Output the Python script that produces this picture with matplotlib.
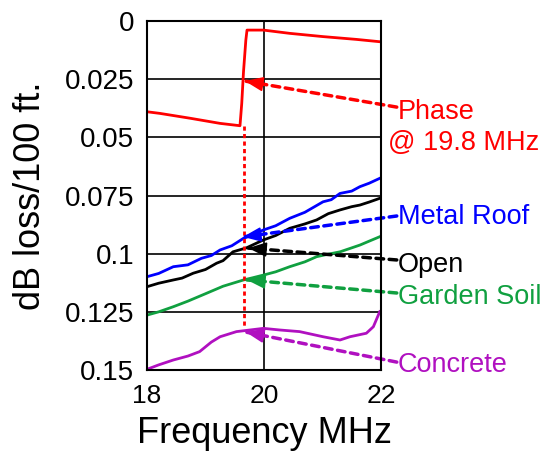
import numpy as np
import matplotlib.pyplot as plt

plt.rcParams['font.family'] = ['Liberation Sans', 'DejaVu Sans']

# curves (frequency MHz, dB loss / 100 ft)
roof_f = [18.0, 18.2, 18.45, 18.7, 18.93, 19.1, 19.25, 19.45, 19.65, 19.8, 19.99, 20.2,
          20.44, 20.7, 21.01, 21.15, 21.30, 21.5, 21.64, 21.8, 21.98]
roof_db = [0.1099, 0.1085, 0.1056, 0.1048, 0.1020, 0.1008, 0.0984, 0.0966, 0.0934, 0.0920,
           0.0898, 0.0880, 0.0848, 0.0822, 0.0777, 0.0768, 0.0741, 0.0731, 0.0712, 0.0697, 0.0676]

open_f = [18.0, 18.2, 18.45, 18.6, 18.79, 19.0, 19.19, 19.3, 19.47, 19.7, 19.99, 20.2,
          20.44, 20.7, 20.90, 21.1, 21.30, 21.5, 21.64, 21.8, 21.98]
open_db = [0.1142, 0.1127, 0.1113, 0.1105, 0.1084, 0.1068, 0.1041, 0.1030, 0.0992, 0.0975,
           0.0941, 0.0922, 0.0891, 0.0872, 0.0855, 0.0828, 0.0812, 0.0798, 0.0791, 0.0778, 0.0762]

soil_f = [18.0, 18.2, 18.45, 18.7, 19.02, 19.3, 19.65, 19.8, 19.99, 20.2, 20.44, 20.7,
          20.90, 21.1, 21.30, 21.5, 21.64, 21.8, 21.98]
soil_db = [0.1264, 0.1250, 0.1228, 0.1204, 0.1170, 0.1140, 0.1113, 0.1104, 0.1092, 0.1078,
           0.1056, 0.1035, 0.1013, 0.1002, 0.0992, 0.0975, 0.0963, 0.0946, 0.0927]

conc_f = [18.0, 18.2, 18.45, 18.7, 18.90, 19.1, 19.25, 19.53, 19.99, 20.27, 20.61, 21.01,
          21.30, 21.47, 21.75, 21.87, 21.98]
conc_db = [0.1497, 0.1478, 0.1457, 0.1440, 0.1421, 0.1380, 0.1357, 0.1335, 0.1321, 0.1328,
           0.1335, 0.1357, 0.1371, 0.1357, 0.1342, 0.1314, 0.1249]

phase_f = [18.0, 18.22, 18.74, 19.25, 19.59, 19.62, 19.65, 19.69, 19.71, 19.99, 20.44,
           21.01, 21.58, 21.98]
phase_db = [0.0390, 0.0397, 0.0418, 0.0440, 0.0450, 0.0354, 0.0218, 0.0082, 0.0039,
            0.0039, 0.0053, 0.0067, 0.0079, 0.0089]

phase_marker_f = 19.65
phase_marker_db = [0.045, 0.132]

names = ['Metal Roof', 'Open', 'Garden Soil', 'Concrete']
colors = ['#0000ff', '#000000', '#10a040', '#b010c0']
# arrow tips on the curves and label anchors
tips = [(19.64, 0.0928), (19.73, 0.0976), (19.71, 0.1113), (19.69, 0.1337)]
tails = [(22.27, 0.0838), (22.27, 0.1027), (22.27, 0.1169), (22.27, 0.1466)]
label_y = [0.0842, 0.1049, 0.1186, 0.1479]

fig = plt.figure(figsize=(5.53, 4.55), dpi=100)
ax = fig.add_axes([0.2658, 0.1868, 0.4231, 0.767])

ax.plot(roof_f, roof_db, color=colors[0], lw=2)
ax.plot(open_f, open_db, color=colors[1], lw=2)
ax.plot(soil_f, soil_db, color=colors[2], lw=2)
ax.plot(conc_f, conc_db, color=colors[3], lw=2)
ax.plot(phase_f, phase_db, color='#ff0000', lw=2)
ax.plot([phase_marker_f, phase_marker_f], phase_marker_db, color='#ff0000', lw=2,
        linestyle=(0, (1.5, 1.2)))

ax.set_xlim(18, 22)
ax.set_ylim(0.15, 0)
ax.set_xticks([18, 20, 22])
ax.set_yticks([0, 0.025, 0.05, 0.075, 0.1, 0.125, 0.15])
ax.set_yticklabels(['0', '0.025', '0.05', '0.075', '0.1', '0.125', '0.15'])
ax.tick_params(length=0, labelsize=20, pad=9)
ax.tick_params(axis='x', labelsize=19, pad=10)
ax.grid(True, color='black', lw=1.2)
for s in ax.spines.values():
    s.set_linewidth(1.5)

ax.set_xlabel('Frequency MHz', fontsize=26, labelpad=6)
ax.set_ylabel('dB loss/100 ft.', fontsize=26, labelpad=12)


def dashed_arrow(tail, tip, color):
    # dashed shaft, then a solid head on the last short stretch
    ax.plot([tail[0], tip[0]], [tail[1], tip[1]], color=color, lw=2.5,
            linestyle=(0, (2.2, 1.6)), dash_capstyle='round', clip_on=False)
    frac = 0.1
    start = (tip[0] + frac * (tail[0] - tip[0]), tip[1] + frac * (tail[1] - tip[1]))
    ax.annotate('', xy=tip, xytext=start, annotation_clip=False,
                arrowprops=dict(arrowstyle='-|>,head_length=0.75,head_width=0.3',
                                color=color, lw=1.2, mutation_scale=15,
                                shrinkA=0, shrinkB=0))


dashed_arrow((22.27, 0.0370), (19.675, 0.0258), '#ff0000')
ax.text(22.29, 0.0391, 'Phase', color='#ff0000', fontsize=19.5, va='center', ha='left',
        clip_on=False)
ax.text(22.12, 0.0524, '@ 19.8 MHz', color='#ff0000', fontsize=19.5, va='center',
        ha='left', clip_on=False)

for name, c, tip, tail, ly in zip(names, colors, tips, tails, label_y):
    dashed_arrow(tail, tip, c)
    ax.text(22.29, ly, name, color=c, fontsize=19.5, va='center', ha='left', clip_on=False)

fig.savefig('out.png', dpi=100)
